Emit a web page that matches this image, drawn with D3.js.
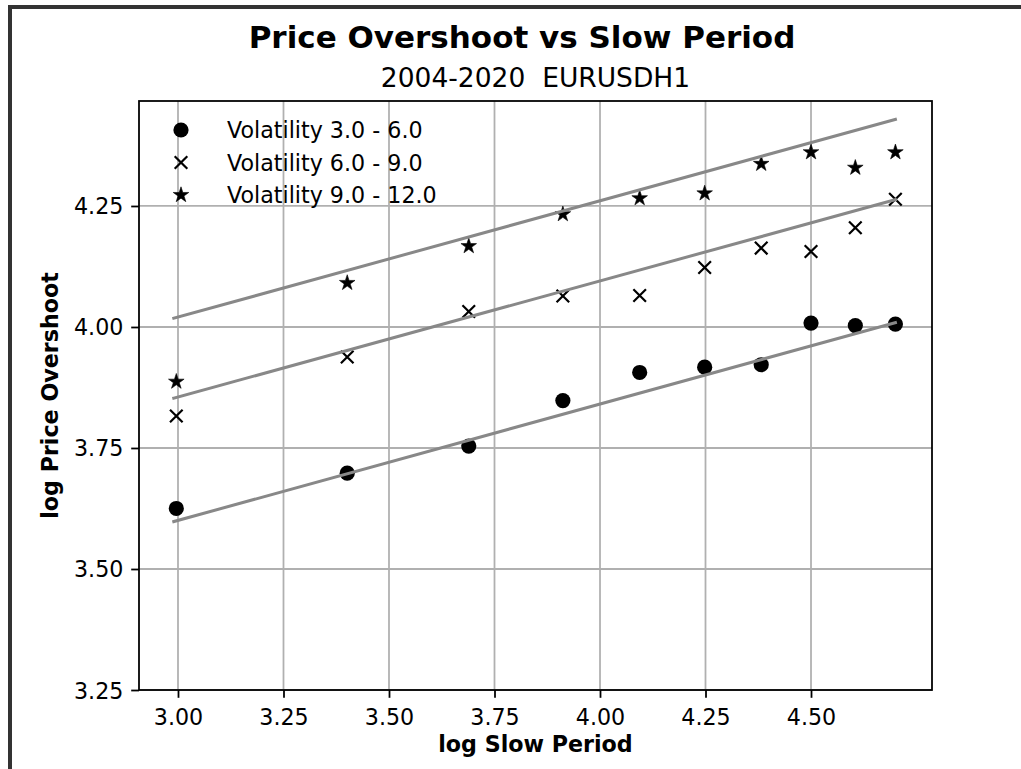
<!DOCTYPE html>
<html>
<head>
<meta charset="utf-8">
<script src="https://cdn.jsdelivr.net/npm/d3@7"></script>
<style>
  body { margin: 0; background: #fff; }
  svg { display: block; }
  text { font-family: "DejaVu Sans", sans-serif; fill: #000; white-space: pre; }
</style>
</head>
<body>
<svg id="chart" width="1021" height="769"></svg>
<script>
// ---- data ----
const logPeriod = [2.996, 3.401, 3.689, 3.912, 4.094, 4.248, 4.382, 4.500, 4.605, 4.700];
const volLow  = [3.625, 3.698, 3.754, 3.848, 3.906, 3.917, 3.922, 4.008, 4.003, 4.006];
const volMid  = [3.816, 3.938, 4.032, 4.064, 4.065, 4.123, 4.163, 4.156, 4.205, 4.264];
const volHigh = [3.887, 4.091, 4.167, 4.233, 4.266, 4.276, 4.337, 4.361, 4.329, 4.361];
const fitX    = [2.990, 4.700];
const fitLow  = [3.598, 4.009];
const fitMid  = [3.853, 4.263];
const fitHigh = [4.018, 4.429];
const seriesNames = ["Volatility 3.0 - 6.0", "Volatility 6.0 - 9.0", "Volatility 9.0 - 12.0"];
const xTicks = [3.00, 3.25, 3.50, 3.75, 4.00, 4.25, 4.50];
const yTicks = [3.25, 3.50, 3.75, 4.00, 4.25];
const titleText = "Price Overshoot vs Slow Period";
const subtitleText = "2004-2020  EURUSDH1";
const xLabel = "log Slow Period";
const yLabel = "log Price Overshoot";

// ---- layout ----
const L = 139, R = 932, T = 101, B = 690;
const svg = d3.select("#chart");
const x = d3.scaleLinear().domain([2.9076, 4.7867]).range([L, R]);
const y = d3.scaleLinear().domain([3.25, 4.4669]).range([B, T]);

// figure frame (dark border)
svg.append("path")
  .attr("d", `M10,780 L10,7 L1030,7`)
  .attr("fill", "none").attr("stroke", "#333").attr("stroke-width", 4);

// grid
const grid = svg.append("g");
grid.selectAll("line.gx").data(xTicks).join("line")
  .attr("x1", d => x(d)).attr("x2", d => x(d)).attr("y1", T).attr("y2", B)
  .attr("stroke", "#b0b0b0").attr("stroke-width", 1.78);
grid.selectAll("line.gy").data(yTicks).join("line")
  .attr("y1", d => y(d)).attr("y2", d => y(d)).attr("x1", L).attr("x2", R)
  .attr("stroke", "#b0b0b0").attr("stroke-width", 1.78);

// axes
const fmt = d3.format(".2f");
const xAxis = svg.append("g").attr("transform", `translate(0,${B})`)
  .call(d3.axisBottom(x).tickValues(xTicks).tickFormat(fmt).tickSize(7.8).tickPadding(7.8));
const yAxis = svg.append("g").attr("transform", `translate(${L},0)`)
  .call(d3.axisLeft(y).tickValues(yTicks).tickFormat(fmt).tickSize(7.8).tickPadding(7.8));
[xAxis, yAxis].forEach(g => {
  g.select(".domain").remove();
  g.selectAll(".tick line").attr("stroke", "#000").attr("stroke-width", 1.78);
  g.selectAll(".tick text").attr("font-size", "22.2px").attr("font-family", "DejaVu Sans").attr("fill", "#000");
});
xAxis.selectAll(".tick text").attr("dy", null).attr("y", 35);
yAxis.selectAll(".tick text").attr("dy", "0.36em");

// markers
const markers = svg.append("g");
const star = d3.symbol().type(d3.symbolStar).size(8.2 * 8.2 / 0.8908130915292852);
function drawCircle(g, cx, cy) {
  g.append("circle").attr("cx", cx).attr("cy", cy).attr("r", 7.6).attr("fill", "#000");
}
function drawCross(g, cx, cy) {
  const h = 6.3;
  g.append("path")
    .attr("d", `M${cx - h},${cy - h}L${cx + h},${cy + h}M${cx - h},${cy + h}L${cx + h},${cy - h}`)
    .attr("stroke", "#000").attr("stroke-width", 2.2).attr("fill", "none");
}
function drawStar(g, cx, cy) {
  g.append("path").attr("d", star()).attr("transform", `translate(${cx},${cy})`)
    .attr("fill", "#000").attr("stroke", "#000").attr("stroke-width", 0.6);
}
logPeriod.forEach((xv, i) => drawCircle(markers, x(xv), y(volLow[i])));
logPeriod.forEach((xv, i) => drawCross(markers, x(xv), y(volMid[i])));
logPeriod.forEach((xv, i) => drawStar(markers, x(xv), y(volHigh[i])));

// fit lines
const line = d3.line().x(d => x(d[0])).y(d => y(d[1]));
[fitLow, fitMid, fitHigh].forEach(f => {
  svg.append("path").datum(fitX.map((xv, i) => [xv, f[i]]))
    .attr("d", line).attr("fill", "none").attr("stroke", "#888").attr("stroke-width", 3)
    .attr("stroke-linecap", "square");
});

// spines
svg.append("rect").attr("x", L).attr("y", T).attr("width", R - L).attr("height", B - T)
  .attr("fill", "none").attr("stroke", "#000").attr("stroke-width", 1.78);

// legend
const leg = svg.append("g");
const drawers = [drawCircle, drawCross, drawStar];
seriesNames.forEach((name, i) => {
  const cy = 130 + i * 32.5;
  drawers[i](leg, 181, cy);
  leg.append("text").attr("x", 227).attr("y", cy + 8).attr("font-size", "22.2px").text(name);
});

// titles
svg.append("text").attr("x", 522).attr("y", 48).attr("text-anchor", "middle")
  .attr("font-size", "31px").attr("font-weight", "bold").text(titleText);
svg.append("text").attr("x", (L + R) / 2).attr("y", 87).attr("text-anchor", "middle")
  .attr("xml:space", "preserve")
  .attr("font-size", "26.5px").text(subtitleText);
svg.append("text").attr("x", (L + R) / 2).attr("y", 752).attr("text-anchor", "middle")
  .attr("font-size", "22.2px").attr("font-weight", "bold").text(xLabel);
svg.append("text").attr("transform", `translate(58,${(T + B) / 2}) rotate(-90)`)
  .attr("text-anchor", "middle").attr("font-size", "22.2px").attr("font-weight", "bold").text(yLabel);
</script>
</body>
</html>
